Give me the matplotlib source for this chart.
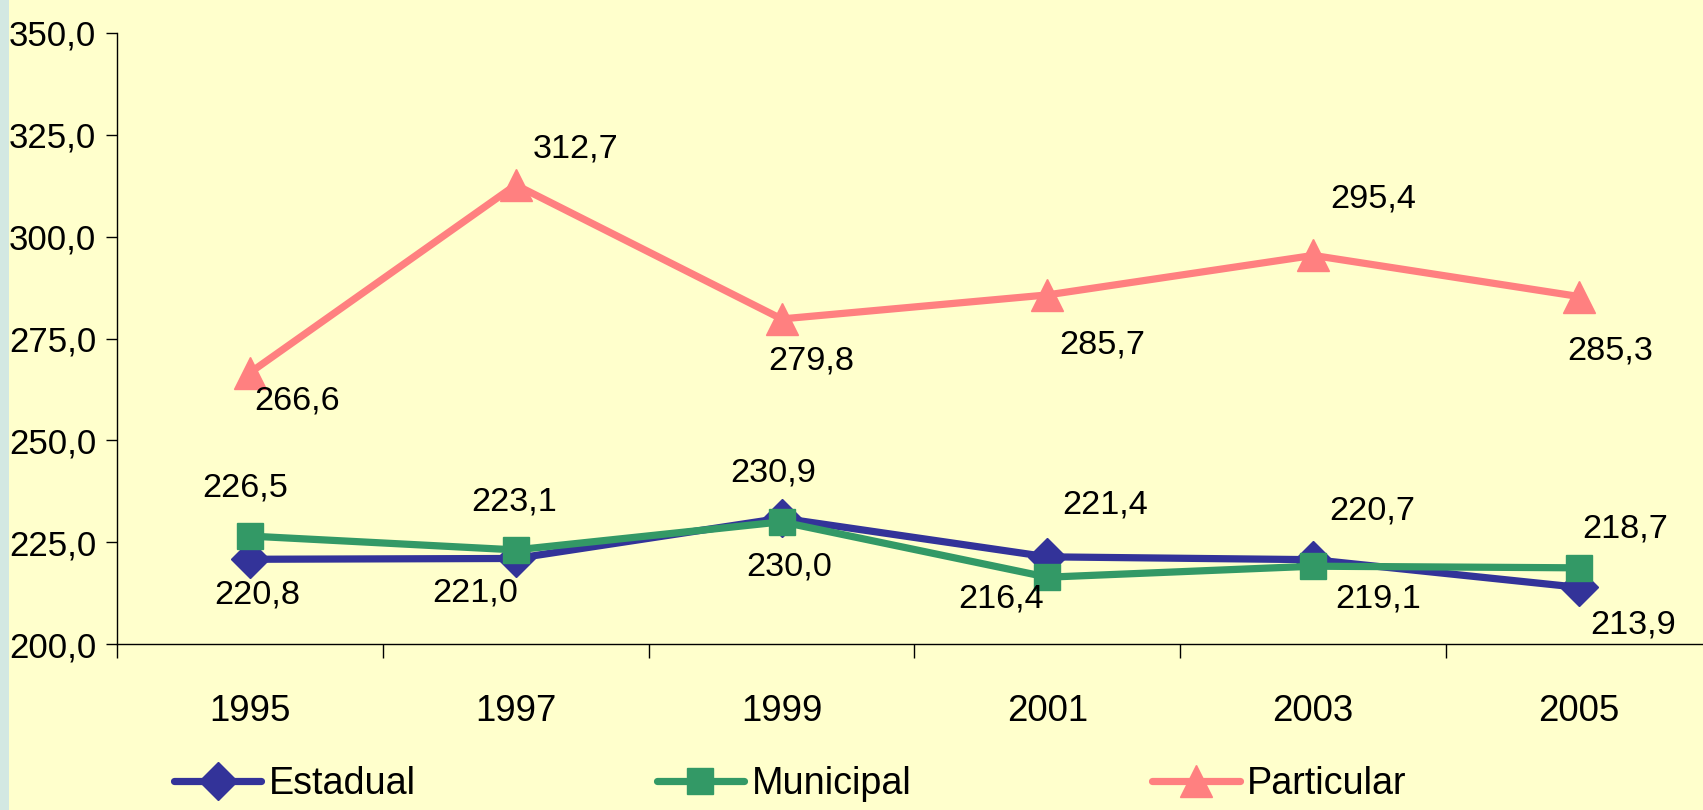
import matplotlib
matplotlib.use("Agg")
import matplotlib.pyplot as plt
from matplotlib.patches import FancyBboxPatch
from matplotlib import font_manager

years = ["1995", "1997", "1999", "2001", "2003", "2005"]
estadual = [220.8, 221.0, 230.9, 221.4, 220.7, 213.9]
municipal = [226.5, 223.1, 230.0, 216.4, 219.1, 218.7]
particular = [266.6, 312.7, 279.8, 285.7, 295.4, 285.3]
series_names = ["Estadual", "Municipal", "Particular"]
yticks = [200, 225, 250, 275, 300, 325, 350]

# label offsets in pixels (dx, dy screen-down)
off_est = [(7, 36), (-41, 35), (-8, -45), (58, -52), (59, -49), (54, 38)]
off_mun = [(-5, -48), (-2, -48), (8, 45), (-46, 22), (65, 33), (46, -39)]
off_par = [(47, 28), (60, -36), (30, 42), (55, 50), (60, -56), (31, 54)]

names = {f.name for f in font_manager.fontManager.ttflist}
narrow = "Liberation Sans Narrow" in names
fam = "Liberation Sans Narrow" if narrow else "Liberation Sans"
plt.rcParams['font.family'] = [fam, 'DejaVu Sans']
k = 1.0 if narrow else 0.85

W, H = 1703, 810
fig = plt.figure(figsize=(W / 100, H / 100), dpi=100)
fig.patch.set_facecolor("#D3E8E2")
bg = FancyBboxPatch((9 / W, -0.2), 1.2, 1.4, boxstyle="round,pad=0,rounding_size=0.03",
                    transform=fig.transFigure, facecolor="#FFFFCC", edgecolor="none", zorder=-5)
fig.patches.append(bg)

ax = fig.add_axes([117 / W, 166 / H, (1712 - 117) / W, (777 - 166) / H])
ax.set_facecolor("none")
x = list(range(len(years)))

colors = ["#333399", "#339966", "#FF8080"]
markers = ["D", "s", "^"]
msizes = [19, 19, 23]
datas = [estadual, municipal, particular]
offs = [off_est, off_mun, off_par]
for d, c, m, ms, name, off in zip(datas, colors, markers, msizes, series_names, offs):
    ax.plot(x, d, color=c, lw=5.2, marker=m, markersize=ms, label=name,
            solid_capstyle="round", clip_on=False)
    for xi, v, (dx, dy) in zip(x, d, off):
        ax.annotate(f"{v:.1f}".replace(".", ","), (xi, v), xytext=(dx, -dy),
                    textcoords="offset pixels", ha="center", va="center",
                    fontsize=29 * k, color="black")

ax.set_xlim(-0.5, 5.5)
ax.set_ylim(200, 350)
ax.set_yticks(yticks)
ax.set_yticklabels([f"{v:.1f}".replace(".", ",") for v in yticks], fontsize=31 * 0.81)
ax.set_xticks([i - 0.5 for i in range(len(years) + 1)])
ax.set_xticklabels([])
ax.set_xticks(x, minor=True)
ax.set_xticklabels(years, minor=True, fontsize=31 * k)
ax.tick_params(axis="x", which="major", direction="out", length=10, width=1)
ax.tick_params(axis="x", which="minor", length=0, pad=36)
ax.tick_params(axis="y", direction="out", length=8, width=1, pad=7)
for s in ["top", "right"]:
    ax.spines[s].set_visible(False)
for s in ["left", "bottom"]:
    ax.spines[s].set_linewidth(1)

leg = fig.legend(loc="center left", bbox_to_anchor=(174 / W, 26 / H), ncol=3,
                 frameon=False, fontsize=34 * 0.8, handlelength=1.85 / 0.8, handletextpad=0.2,
                 columnspacing=5.1 / 0.8, borderpad=0, borderaxespad=0)

fig.savefig("out.png", dpi=100, facecolor=fig.get_facecolor())
